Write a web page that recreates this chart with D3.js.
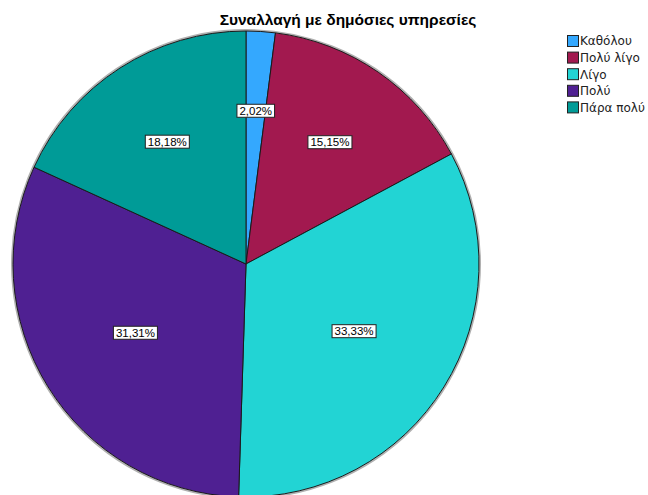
<!DOCTYPE html>
<html>
<head>
<meta charset="utf-8">
<script src="https://cdn.jsdelivr.net/npm/d3@7"></script>
<style>
  html, body { margin: 0; padding: 0; background: #fff; }
  svg { display: block; }
</style>
</head>
<body>
<div id="chart"></div>
<script>
// Responses (counts out of 99) for "Συναλλαγή με δημόσιες υπηρεσίες"
const categories = ["Καθόλου", "Πολύ λίγο", "Λίγο", "Πολύ", "Πάρα πολύ"];
const counts = [2, 15, 33, 31, 18];
const colors = ["#34a8fe", "#a2194f", "#22d4d4", "#4f2092", "#009b97"];
const title = "Συναλλαγή με δημόσιες υπηρεσίες";

const W = 648, H = 495;
const cx = 246, cy = 264, R = 233;

const svg = d3.select("#chart").append("svg")
  .attr("width", W).attr("height", H);

const total = d3.sum(counts);
const data = categories.map((c, i) => ({ cat: c, value: counts[i], color: colors[i] }));

const pie = d3.pie().value(d => d.value).sort(null);
const arc = d3.arc().innerRadius(0).outerRadius(R);
const arcs = pie(data);

const g = svg.append("g").attr("transform", `translate(${cx},${cy})`);

// soft rim around the pie
g.append("circle")
  .attr("r", R + 1)
  .attr("fill", "none")
  .attr("stroke", "#b0b0b0")
  .attr("stroke-width", 2);

g.selectAll("path.slice")
  .data(arcs)
  .join("path")
  .attr("class", "slice")
  .attr("d", arc)
  .attr("fill", d => d.data.color)
  .attr("stroke", "#1a1a1a")
  .attr("stroke-width", 1)
  .attr("stroke-linejoin", "round");

// Percentage labels, placed near the area centroid of each sector
const fmt = v => (v * 100).toFixed(2).replace(".", ",") + "%";
const labels = g.selectAll("g.lbl")
  .data(arcs)
  .join("g")
  .attr("class", "lbl")
  .attr("transform", d => {
    const mid = (d.startAngle + d.endAngle) / 2;
    const h = (d.endAngle - d.startAngle) / 2;
    const dist = 0.66 * R * Math.sin(h) / h;
    return `translate(${dist * Math.sin(mid)},${-dist * Math.cos(mid)})`;
  });

labels.each(function(d) {
  const sel = d3.select(this);
  const t = sel.append("text")
    .attr("text-anchor", "middle")
    .attr("dy", "0.36em")
    .attr("font-family", "Liberation Sans, Arial, sans-serif")
    .attr("font-size", 11.5)
    .attr("fill", "#000")
    .text(fmt(d.data.value / total));
  const bb = t.node().getBBox();
  sel.insert("rect", "text")
    .attr("x", bb.x - 2.5)
    .attr("y", bb.y - 0.5)
    .attr("width", bb.width + 5)
    .attr("height", bb.height + 1)
    .attr("fill", "#fff")
    .attr("stroke", "#222")
    .attr("stroke-width", 1);
});

// Title
svg.append("text")
  .attr("x", 348)
  .attr("y", 25)
  .attr("text-anchor", "middle")
  .attr("font-family", "Liberation Sans, Arial, sans-serif")
  .attr("font-weight", "bold")
  .attr("font-size", 15.5)
  .attr("fill", "#000")
  .text(title);

// Legend
const legend = svg.append("g").attr("transform", "translate(567,35)");
const rowH = 16.6;
const items = legend.selectAll("g.item")
  .data(data)
  .join("g")
  .attr("class", "item")
  .attr("transform", (d, i) => `translate(0,${i * rowH})`);

items.append("rect")
  .attr("x", 0.5).attr("y", 0.5)
  .attr("width", 11).attr("height", 11)
  .attr("fill", d => d.color)
  .attr("stroke", "#222")
  .attr("stroke-width", 1);

items.append("text")
  .attr("x", 13)
  .attr("y", 6)
  .attr("dy", "0.36em")
  .attr("font-family", "DejaVu Sans, Verdana, sans-serif")
  .attr("font-size", 12)
  .attr("fill", "#222")
  .text(d => d.cat);
</script>
</body>
</html>
